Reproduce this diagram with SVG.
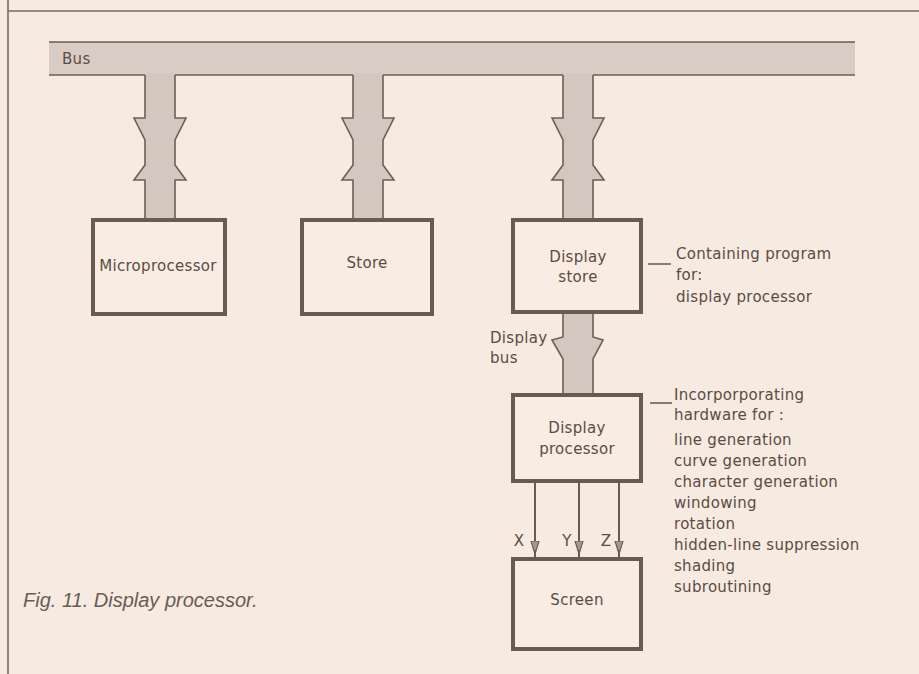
<svg xmlns="http://www.w3.org/2000/svg" width="919" height="674" viewBox="0 0 919 674">
<defs>
<style>
.bg{fill:#f7eae0}
.frame{stroke:#7a6a60;stroke-width:1.6;fill:none}
.busfill{fill:#d8ccc4}
.busline{stroke:#6e5e55;stroke-width:1.6;fill:none}
.dropfill{fill:#d3c7bf}
.dropline{stroke:#6e5e55;stroke-width:1.6;fill:none;stroke-linejoin:miter}
.box{fill:#f8ece3;stroke:#6b5a51;stroke-width:4}
.t{font-family:"DejaVu Sans",sans-serif;font-size:15px;fill:#5b4c45;letter-spacing:0.3px}
.c{text-anchor:middle}
.sig{stroke:#6b5a51;stroke-width:2;fill:none}
.cap{font-family:"Liberation Sans",Arial,sans-serif;font-style:italic;font-size:20px;fill:#6a5c55}
</style>
<marker id="ah" viewBox="0 0 14 10" refX="14" refY="5" markerWidth="14" markerHeight="10" markerUnits="userSpaceOnUse" orient="auto">
<path d="M0,1 L0,9 L13,5 Z" fill="#a89890" stroke="#6b5a51" stroke-width="1.2"/>
</marker>
</defs>
<rect class="bg" x="0" y="0" width="919" height="674"/>
<g id="frame">
<line class="frame" x1="8" y1="0" x2="8" y2="674"/>
<line class="frame" x1="8" y1="11" x2="919" y2="11"/>
</g>
<g id="bus">
<rect class="busfill" x="49" y="42" width="806" height="33"/>
<line class="busline" x1="49" y1="42" x2="855" y2="42"/>
<line class="busline" x1="49" y1="75" x2="855" y2="75"/>
<text class="t" x="62" y="64">Bus</text>
</g>
<g id="connectors">
<g id="drop-micro">
<path class="dropfill" d="M145,73 L175,73 L175,118 L186,118 L175,140 L175,165 L186,180 L175,180 L175,219 L145,219 L145,180 L134,180 L145,165 L145,140 L134,118 L145,118 Z"/>
<polyline class="dropline" points="145,75 145,118 134,118 145,140 145,165 134,180 145,180 145,219"/>
<polyline class="dropline" points="175,75 175,118 186,118 175,140 175,165 186,180 175,180 175,219"/>
</g>
<g id="drop-store">
<path class="dropfill" d="M353,73 L383,73 L383,118 L394,118 L383,140 L383,165 L394,180 L383,180 L383,219 L353,219 L353,180 L342,180 L353,165 L353,140 L342,118 L353,118 Z"/>
<polyline class="dropline" points="353,75 353,118 342,118 353,140 353,165 342,180 353,180 353,219"/>
<polyline class="dropline" points="383,75 383,118 394,118 383,140 383,165 394,180 383,180 383,219"/>
</g>
<g id="drop-dstore">
<path class="dropfill" d="M563,73 L593,73 L593,118 L604,118 L593,140 L593,165 L604,180 L593,180 L593,219 L563,219 L563,180 L552,180 L563,165 L563,140 L552,118 L563,118 Z"/>
<polyline class="dropline" points="563,75 563,118 552,118 563,140 563,165 552,180 563,180 563,219"/>
<polyline class="dropline" points="593,75 593,118 604,118 593,140 593,165 604,180 593,180 593,219"/>
</g>
<g id="display-bus">
<path class="dropfill" d="M563,312 L593,312 L593,337 L603,340 L593,359 L593,394 L563,394 L563,359 L552,340 L563,337 Z"/>
<polyline class="dropline" points="563,312 563,337 552,340 563,359 563,394"/>
<polyline class="dropline" points="593,312 593,337 603,340 593,359 593,394"/>
<text class="t" x="490" y="343">Display</text>
<text class="t" x="490" y="363">bus</text>
</g>
<g id="signals">
<line class="sig" x1="535" y1="482" x2="535" y2="555" marker-end="url(#ah)"/>
<line class="sig" x1="579" y1="482" x2="579" y2="555" marker-end="url(#ah)"/>
<line class="sig" x1="619" y1="482" x2="619" y2="555" marker-end="url(#ah)"/>
<line class="sig" x1="535" y1="550" x2="535" y2="558"/>
<line class="sig" x1="579" y1="550" x2="579" y2="558"/>
<line class="sig" x1="619" y1="550" x2="619" y2="558"/>
<text class="t c" x="519" y="546">X</text>
<text class="t c" x="567" y="546">Y</text>
<text class="t c" x="606" y="546">Z</text>
</g>
<line class="busline" x1="648" y1="264" x2="671" y2="264"/>
<line class="busline" x1="650" y1="403" x2="672" y2="403"/>
</g>
<g id="microprocessor">
<rect class="box" x="93" y="220" width="132" height="94"/>
<text class="t c" x="158" y="271">Microprocessor</text>
</g>
<g id="store">
<rect class="box" x="302" y="220" width="130" height="94"/>
<text class="t c" x="367" y="268">Store</text>
</g>
<g id="display-store">
<rect class="box" x="513" y="220" width="128" height="92"/>
<text class="t c" x="578" y="262">Display</text>
<text class="t c" x="578" y="282">store</text>
</g>
<g id="display-store-note">
<text class="t" x="676" y="259">Containing program</text>
<text class="t" x="676" y="280">for:</text>
<text class="t" x="676" y="302">display processor</text>
</g>
<g id="display-processor">
<rect class="box" x="513" y="395" width="128" height="86"/>
<text class="t c" x="577" y="433">Display</text>
<text class="t c" x="577" y="454">processor</text>
</g>
<g id="display-processor-note">
<text class="t" x="674" y="400">Incorporporating</text>
<text class="t" x="674" y="420">hardware for :</text>
<text class="t" x="674" y="445">line generation</text>
<text class="t" x="674" y="466">curve generation</text>
<text class="t" x="674" y="487">character generation</text>
<text class="t" x="674" y="508">windowing</text>
<text class="t" x="674" y="529">rotation</text>
<text class="t" x="674" y="550">hidden-line suppression</text>
<text class="t" x="674" y="571">shading</text>
<text class="t" x="674" y="592">subroutining</text>
</g>
<g id="screen">
<rect class="box" x="513" y="559" width="128" height="90"/>
<text class="t c" x="577" y="605">Screen</text>
</g>
<text class="cap" x="23" y="607">Fig. 11. Display processor.</text>
</svg>
